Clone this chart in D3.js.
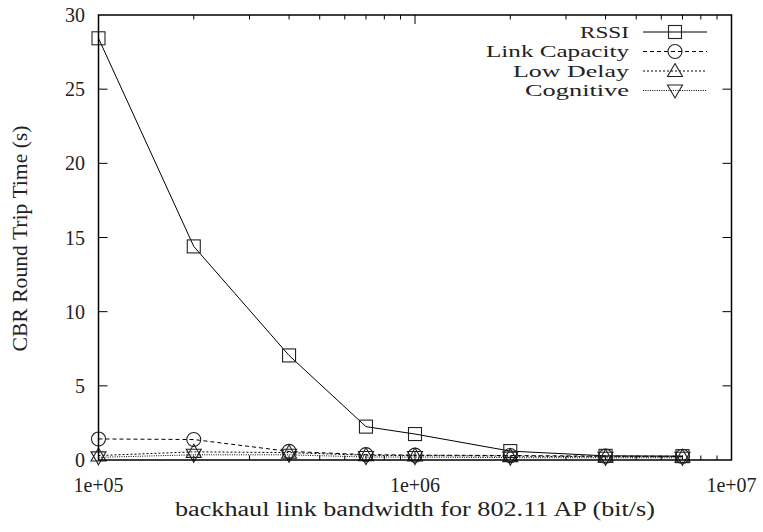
<!DOCTYPE html>
<html>
<head>
<meta charset="utf-8">
<script src="https://cdn.jsdelivr.net/npm/d3@7"></script>
<style>
  html, body { margin: 0; padding: 0; background: #fff; }
</style>
</head>
<body>
<svg id="chart" width="763" height="532"></svg>
<script>
// ---- data ----
const bandwidths = [1e5, 2e5, 4e5, 7e5, 1e6, 2e6, 4e6, 7e6];
const rssi        = [28.43, 14.4, 7.05, 2.25, 1.75, 0.6, 0.28, 0.26];
const linkCap     = [1.42, 1.38, 0.58, 0.36, 0.33, 0.3, 0.26, 0.25];
const lowDelay    = [0.3, 0.55, 0.5, 0.32, 0.3, 0.26, 0.22, 0.22];
const cognitive   = [0.18, 0.35, 0.35, 0.2, 0.2, 0.16, 0.15, 0.15];
const seriesNames = ["RSSI", "Link Capacity", "Low Delay", "Cognitive"];
const yTicks = [0, 5, 10, 15, 20, 25, 30];
const xTicks = [1e5, 1e6, 1e7];
const xTickLabels = ["1e+05", "1e+06", "1e+07"];
const xLabel = "backhaul link bandwidth for 802.11 AP (bit/s)";
const yLabel = "CBR Round Trip Time (s)";

// ---- layout ----
const L = 98.5, R = 731.5, T = 15, B = 460;
const svg = d3.select("#chart");
const x = d3.scaleLog().domain([1e5, 1e7]).range([L, R]);
const y = d3.scaleLinear().domain([0, 30]).range([B, T]);
const FS = 20;
const FONT = "'Liberation Serif', 'Times New Roman', 'Noto Serif', 'DejaVu Serif', serif";

const series = [
  { name: seriesNames[0], values: rssi,      dash: null,    marker: "square" },
  { name: seriesNames[1], values: linkCap,   dash: "4,3",   marker: "circle" },
  { name: seriesNames[2], values: lowDelay,  dash: "2,2",   marker: "up" },
  { name: seriesNames[3], values: cognitive, dash: "1,1.3", marker: "down" }
];

function txt(sel, fs) {
  return sel.style("font-family", FONT).attr("font-size", fs || FS).attr("fill", "#222");
}

// ticks
const tickG = svg.append("g").attr("stroke", "#000").attr("stroke-width", 1);
yTicks.forEach(v => {
  if (v === 0 || v === 30) return;
  tickG.append("line").attr("x1", L).attr("x2", L + 9).attr("y1", y(v)).attr("y2", y(v));
  tickG.append("line").attr("x1", R).attr("x2", R - 9).attr("y1", y(v)).attr("y2", y(v));
});
const minor = [];
[1e5, 1e6].forEach(d => { for (let k = 2; k <= 9; k++) minor.push(d * k); });
minor.forEach(v => {
  tickG.append("line").attr("x1", x(v)).attr("x2", x(v)).attr("y1", B).attr("y2", B - 4.5);
  tickG.append("line").attr("x1", x(v)).attr("x2", x(v)).attr("y1", T).attr("y2", T + 4.5);
});
xTicks.forEach(v => {
  tickG.append("line").attr("x1", x(v)).attr("x2", x(v)).attr("y1", B).attr("y2", B - 9);
  tickG.append("line").attr("x1", x(v)).attr("x2", x(v)).attr("y1", T).attr("y2", T + 9);
});

// tick labels
txt(svg.append("g").selectAll("text").data(yTicks).join("text"))
  .attr("x", 85).attr("y", d => y(d)).attr("dy", "0.35em")
  .attr("text-anchor", "end").text(d => d);
txt(svg.append("g").selectAll("text").data(xTicks).join("text"))
  .attr("x", d => x(d)).attr("y", 492)
  .attr("text-anchor", "middle").text((d, i) => xTickLabels[i]);

// axis titles
txt(svg.append("text")).attr("x", (L + R) / 2).attr("y", 516).attr("text-anchor", "middle")
  .attr("textLength", 480).attr("lengthAdjust", "spacingAndGlyphs").text(xLabel);
txt(svg.append("text")).attr("transform", `translate(27,${(T + B) / 2 + 1}) rotate(-90)`)
  .attr("text-anchor", "middle")
  .attr("textLength", 226).attr("lengthAdjust", "spacingAndGlyphs").text(yLabel);

// markers
function drawMarker(g, type, cx, cy) {
  const s = 6.5;
  if (type === "square") {
    g.append("rect").attr("x", cx - s).attr("y", cy - s).attr("width", 2 * s).attr("height", 2 * s);
  } else if (type === "circle") {
    g.append("circle").attr("cx", cx).attr("cy", cy).attr("r", 7);
  } else if (type === "up") {
    g.append("path").attr("d", `M${cx},${cy - 7.5}L${cx + 7.5},${cy + 5.5}L${cx - 7.5},${cy + 5.5}Z`);
  } else {
    g.append("path").attr("d", `M${cx},${cy + 7.5}L${cx + 7.5},${cy - 5.5}L${cx - 7.5},${cy - 5.5}Z`);
  }
}

const line = d3.line().x(d => x(d[0])).y(d => y(d[1]));
series.forEach(s => {
  const pts = bandwidths.map((b, i) => [b, s.values[i]]);
  svg.append("path").datum(pts).attr("d", line)
    .attr("fill", "none").attr("stroke", "#000").attr("stroke-width", 1)
    .attr("stroke-dasharray", s.dash);
  const g = svg.append("g").attr("fill", "none").attr("stroke", "#222").attr("stroke-width", 1.1);
  pts.forEach(p => drawMarker(g, s.marker, x(p[0]), y(p[1])));
});

// legend
const legY = [32, 51.5, 71, 90.5];
const legW = [49, 143, 116, 104];
series.forEach((s, i) => {
  const ly = legY[i];
  txt(svg.append("text"), 16.5).attr("x", 629).attr("y", ly).attr("dy", "0.35em")
    .attr("text-anchor", "end")
    .attr("textLength", legW[i]).attr("lengthAdjust", "spacingAndGlyphs").text(s.name);
  svg.append("line").attr("x1", 643).attr("x2", 707).attr("y1", ly).attr("y2", ly)
    .attr("stroke", "#000").attr("stroke-width", 1).attr("stroke-dasharray", s.dash);
  const g = svg.append("g").attr("fill", "none").attr("stroke", "#222").attr("stroke-width", 1.1);
  drawMarker(g, s.marker, 675, ly);
});

// frame
svg.append("rect").attr("x", L).attr("y", T).attr("width", R - L).attr("height", B - T)
  .attr("fill", "none").attr("stroke", "#000").attr("stroke-width", 1.5);
</script>
</body>
</html>
